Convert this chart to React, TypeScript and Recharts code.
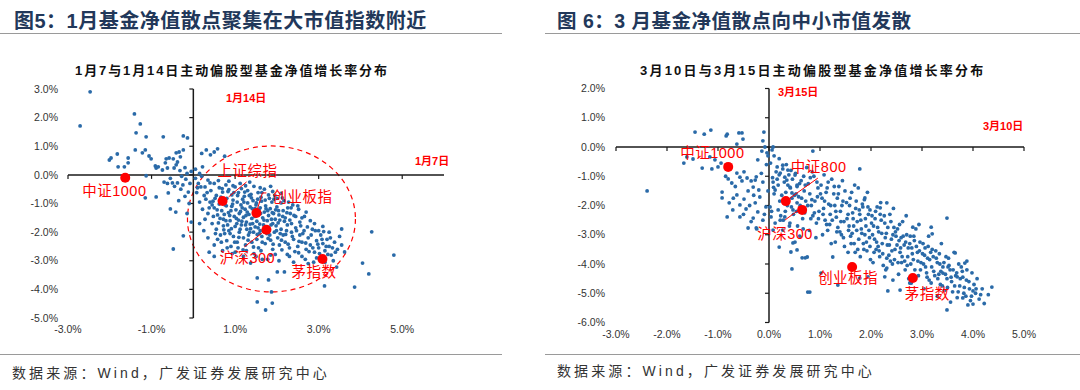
import React from 'react';
import { ScatterChart, Scatter, XAxis, YAxis, ReferenceLine, ReferenceDot, ReferenceArea } from 'recharts';

// ---------- tick values ----------
const janXTicks = [-3, -1, 1, 3, 5];
const janYTicks = [-5, -4, -3, -2, -1, 0, 1, 2, 3];
const marXTicks = [-3, -2, -1, 0, 1, 2, 3, 4, 5];
const marYTicks = [-6, -5, -4, -3, -2, -1, 0, 1, 2];

// ---------- fund points: [x = later day %, y = earlier day %] ----------
const janFunds: number[][] = [
  [-2.47, 2.9], [-2.71, 1.71], [-1.41, 2.13], [-1.27, 1.78], [-1.37, 1.47], [-1.13, 1.33], [-0.72, 1.33], [-0.24, 1.36], [-0.14, 1.29],
  [0.31, 0.87], [0.41, 0.7], [0.58, 0.91], [-1.39, 0.87], [-1.15, 0.87], [-1.22, 0.77], [-1.97, 0.59], [-2.01, 0.52], [-1.82, 0.73],
  [-1.56, 0.59], [-1.56, 0.42], [-1.8, 0.28], [-1.65, 0.28], [-1.06, 0.66], [-1.01, 0.56], [-0.91, 0.31], [-0.84, 0.28], [-0.89, 0.24],
  [-0.67, 0.42], [-0.65, 0.56], [-0.58, 0.59], [-0.48, 0.56], [-0.41, 0.77], [-0.34, 0.8], [-0.31, 0.63], [-0.24, 0.87], [-0.41, 0.35],
  [-0.46, 0.24], [-0.62, 0.24], [-0.74, 0.17], [-0.38, 0.45], [-1.13, -0.03], [-1.15, -0.8], [-0.89, -0.77], [-0.6, -0.63], [-0.55, -1.19],
  [-0.24, -2.13], [-0.48, -2.59],
  [-0.7, -0.25], [-0.62, -0.3], [-0.5, -0.28], [-0.45, -0.4], [-0.38, -0.28], [-0.3, -0.5], [-0.25, -0.35], [-0.18, -0.15], [-0.12, -0.6],
  [-0.08, -0.3], [-0.2, -0.75], [-0.35, -0.9], [-0.1, -1.0], [-0.55, -0.12], [-0.28, -0.05], [-0.15, 0.05], [-0.05, 0.12], [-0.32, 0.15],
  [-0.2, 0.25], [0.05, 0.2], [0.15, 0.05], [0.22, 0.28], [0.1, -0.45], [-0.42, -1.3], [-0.15, -1.35], [-0.05, -1.65], [0.2, 0.75], [0.5, 0.8], [0.75, 0.65],
  [0.05, -0.12], [0.12, -0.3], [0.2, -0.05], [0.28, -0.42], [0.35, -0.18], [0.42, -0.55], [0.5, -0.3], [0.55, -0.72], [0.62, -0.45], [0.7, -0.6],
  [0.78, -0.35], [0.85, -0.52], [0.92, -0.7], [1.0, -0.42], [1.08, -0.62], [1.15, -0.48], [1.22, -0.75], [1.3, -0.55], [1.38, -0.68], [1.45, -0.4],
  [1.55, -0.62], [1.62, -0.78], [1.7, -0.5], [1.8, -0.7], [1.9, -0.58], [2.0, -0.82], [2.1, -0.65], [0.3, -0.85], [0.15, -0.95], [0.45, -1.05], [0.08, -0.62],
  [0.22, -1.2], [0.35, -1.35], [0.4, -0.95], [0.5, -1.15], [0.58, -1.4], [0.63, -0.9], [0.68, -1.25], [0.72, -1.55], [0.76, -1.05], [0.8, -0.82],
  [0.84, -1.32], [0.88, -1.6], [0.92, -1.1], [0.95, -0.88], [0.98, -1.45], [1.02, -1.22], [1.05, -0.95], [1.08, -1.58], [1.1, -1.35], [1.14, -1.05],
  [1.18, -0.85], [1.2, -1.48], [1.24, -1.2], [1.27, -1.65], [1.3, -0.98], [1.33, -1.38], [1.36, -1.12], [1.4, -1.52], [1.43, -0.9], [1.46, -1.28],
  [1.5, -1.05], [1.52, -1.62], [1.56, -1.4], [1.6, -1.15], [1.63, -0.92], [1.66, -1.5], [1.7, -1.3], [1.73, -1.08], [1.77, -1.6], [1.8, -1.42],
  [1.84, -1.18], [1.88, -0.95], [1.92, -1.35], [1.96, -1.55], [2.0, -1.12], [2.05, -1.4], [2.1, -0.98], [2.15, -1.25], [2.2, -1.5], [2.26, -1.15],
  [2.32, -1.35], [2.38, -1.05], [2.45, -1.45], [2.52, -1.2], [2.6, -1.5], [2.7, -1.3], [2.8, -1.6], [0.28, -1.55], [0.45, -1.7], [0.6, -1.68],
  [0.55, -1.9], [0.65, -2.1], [0.72, -1.78], [0.8, -2.3], [0.85, -1.95], [0.9, -2.5], [0.96, -2.15], [1.0, -1.8], [1.05, -2.35], [1.1, -2.0],
  [1.15, -1.75], [1.2, -2.2], [1.25, -2.45], [1.28, -1.9], [1.32, -2.1], [1.36, -1.72], [1.4, -2.35], [1.44, -2.0], [1.48, -1.82], [1.52, -2.25],
  [1.56, -2.55], [1.6, -1.95], [1.64, -2.15], [1.68, -1.75], [1.72, -2.4], [1.76, -2.05], [1.8, -1.85], [1.85, -2.28], [1.9, -2.6], [1.94, -2.0],
  [1.98, -1.78], [2.02, -2.2], [2.06, -2.45], [2.1, -1.9], [2.15, -2.1], [2.2, -2.35], [2.25, -1.75], [2.3, -2.55], [2.35, -2.0], [2.4, -2.25],
  [2.45, -1.85], [2.5, -2.5], [2.55, -2.1], [2.6, -2.35], [2.65, -1.95], [2.7, -2.6], [2.75, -2.2], [2.8, -2.45], [2.85, -1.9], [2.9, -2.7],
  [2.95, -2.3], [3.0, -2.55], [3.05, -2.1], [3.1, -2.4], [3.15, -2.65], [3.2, -2.25], [3.25, -2.5], [3.3, -2.8], [3.38, -2.35], [3.45, -2.6],
  [3.5, -2.15], [3.55, -2.45],
  [1.0, -2.7], [1.2, -2.85], [1.45, -2.75], [1.65, -2.95], [1.85, -2.8], [2.05, -3.0], [2.25, -2.78], [2.4, -3.05], [2.6, -2.85], [2.75, -3.1],
  [2.95, -2.9], [3.15, -3.05], [3.35, -3.0], [0.7, -2.65], [0.5, -2.45], [0.35, -2.2], [0.25, -1.95], [0.15, -1.7],
  [2.9, -1.7], [3.0, -1.95], [3.1, -1.8], [3.25, -2.0], [2.55, -1.65], [2.35, -1.7], [1.9, -1.7], [1.55, -1.85], [1.25, -1.75],
  [0.66, -0.78], [0.74, -1.38], [0.82, -1.75], [0.9, -1.25], [0.97, -0.62], [1.04, -1.7], [1.12, -1.9], [1.17, -1.15], [1.23, -0.6], [1.29, -1.3],
  [1.35, -2.0], [1.39, -0.8], [1.42, -1.7], [1.48, -1.18], [1.54, -0.85], [1.58, -2.05], [1.61, -1.35], [1.67, -1.95], [1.72, -0.88], [1.78, -1.25],
  [1.83, -2.1], [1.87, -1.55], [1.93, -0.85], [1.97, -1.22], [2.03, -1.68], [2.08, -2.05], [2.13, -0.8], [2.18, -1.62], [2.23, -1.95], [2.28, -0.95],
  [0.88, -2.05], [0.78, -1.6], [0.62, -1.02], [0.52, -0.82], [0.58, -2.25],
  [0.33, -0.62], [0.47, -0.92], [0.57, -1.22], [0.64, -1.52], [0.69, -0.48], [0.73, -1.92], [0.79, -1.08], [0.83, -0.58], [0.87, -1.42], [0.91, -1.88],
  [0.94, -1.02], [0.99, -2.35], [1.03, -1.52], [1.06, -0.72], [1.09, -2.18], [1.13, -1.28], [1.16, -1.62], [1.19, -2.62], [1.21, -0.95], [1.26, -1.42],
  [1.31, -2.28], [1.34, -0.72], [1.37, -1.88], [1.41, -1.18], [1.44, -2.52], [1.47, -1.45], [1.51, -0.98], [1.53, -2.08], [1.57, -1.22], [1.59, -1.72],
  [1.64, -0.62], [1.65, -2.35], [1.69, -1.58], [1.71, -1.98], [1.74, -1.18], [1.79, -2.22], [1.82, -0.82], [1.86, -1.75], [1.89, -1.32], [1.91, -2.42],
  [1.95, -0.72], [1.99, -1.95], [2.04, -1.25], [2.07, -1.58], [2.11, -2.28], [2.14, -1.45], [2.17, -0.9], [2.21, -2.08], [2.24, -1.32], [2.27, -2.42],
  [2.31, -1.58], [2.34, -1.15], [2.37, -2.15], [2.41, -1.42], [2.43, -2.68], [2.47, -1.95], [2.5, -1.08], [2.53, -2.32], [2.57, -1.78], [2.62, -2.05],
  [2.66, -1.45], [2.69, -2.38], [2.73, -1.82], [2.77, -2.68], [2.82, -2.1], [2.86, -2.55], [2.92, -1.95], [2.98, -2.42], [3.02, -2.75], [3.08, -2.25],
  [3.12, -1.98], [3.18, -2.5], [3.22, -2.78], [3.28, -2.2], [3.33, -2.55], [3.4, -2.7], [0.26, -0.72], [0.38, -1.15], [0.48, -1.45], [0.53, -2.05],
  [0.67, -2.35], [0.75, -2.05], [0.81, -2.55], [0.93, -2.75], [1.07, -2.55], [1.27, -2.65], [1.5, -2.85], [1.62, -2.65], [1.78, -2.95], [1.96, -2.78],
  [2.12, -2.62], [2.3, -2.85], [2.52, -2.72], [2.68, -2.95], [2.88, -3.05], [0.18, -0.42], [0.4, -0.28], [0.6, -0.2], [0.85, -0.22], [1.12, -0.3],
  [1.35, -0.25], [1.6, -0.45], [1.85, -0.4], [0.95, -0.38], [1.25, -0.38],
  [4.27, -1.99], [4.8, -2.8], [4.05, -3.08], [4.2, -3.46], [3.86, -3.92], [3.14, -3.88], [3.55, -1.89], [3.62, -2.69], [3.43, -3.22], [1.87, -4.09],
  [1.53, -4.44], [1.89, -4.48], [1.73, -4.72], [1.53, -3.6], [1.8, -3.67], [2.01, -3.39], [2.18, -3.39], [1.37, -3.08], [0.38, -2.7], [0.5, -2.85],
];

const marFunds: number[][] = [
  [-2.39, -1.5], [-1.45, 0.51], [-1.27, 0.44], [-1.14, 0.58], [-0.84, 0.38], [-0.82, 0.44], [-0.59, 0.48], [-0.53, 0.48], [-0.51, 0.27], [-0.1, 0.51],
  [-0.12, 0.21], [-0.63, 0.1], [-1.67, -0.55], [-1.61, -0.34], [-1.49, -0.41], [-1.31, -0.72], [-1.16, -0.34], [-1.06, -0.44], [-1.12, -0.75], [-1.0, -0.68],
  [-0.94, -0.55], [-0.8, -1.09], [-0.73, -1.23], [-0.63, -0.89], [-0.57, -1.03], [-0.53, -1.16], [-0.49, -0.85], [-0.43, -1.06], [-0.35, -1.16], [-0.27, -1.13],
  [-0.92, -1.54], [-0.92, -1.74], [-0.78, -1.91], [-0.71, -2.15], [-0.63, -1.64], [-0.57, -1.98], [-0.49, -1.78], [-0.45, -2.12], [-0.57, -2.39], [-0.82, -2.39],
  [-0.41, -2.77], [-0.31, -2.43], [-0.25, -2.77], [-0.22, -2.22], [-0.27, -1.91], [-0.31, -1.37], [-0.41, -1.5], [-0.2, -1.47], [-0.12, -1.2], [-0.18, -1.71],
  [-0.12, -2.5], [-0.24, -2.8], [-0.06, -2.05], [-0.22, -0.44], [-0.14, -0.14], [-0.08, 0.0], [-0.04, -0.2], [-0.02, -0.3],
  [-0.05, -0.6], [-0.15, -0.9], [-0.3, -1.65], [-0.38, -2.0], [-0.5, -2.3], [-0.66, -1.35], [-0.85, -1.0], [-0.02, -1.5], [-0.09, -2.3], [-0.35, -2.55],
  [-0.7, -1.75], [-0.25, -1.02],
  [0.08, 0.0], [0.06, -0.1], [0.16, -0.68], [0.22, -0.89], [0.27, -0.62], [0.31, -1.03], [0.35, -1.13], [0.37, -0.79], [0.41, -1.37], [0.45, -1.57],
  [0.51, -0.96], [0.55, -1.3], [0.08, -1.2], [0.12, -1.47], [0.18, -2.15], [0.22, -2.5], [0.08, -2.84], [0.27, -2.84], [0.31, -2.39], [0.41, -2.6],
  [0.47, -2.15], [0.55, -1.91], [0.2, -3.42], [0.43, -3.59], [0.51, -3.25], [0.45, -4.17], [0.02, -2.05], [0.04, -2.39],
  [0.65, -3.79], [0.75, -3.76], [0.76, -4.96], [0.8, -4.96], [1.02, -4.31], [0.47, -3.28], [0.55, -3.52],
  [0.86, -0.14], [1.78, -0.75], [1.75, -1.4], [1.88, -1.74], [1.98, -2.15], [2.31, -1.91], [2.18, -2.08], [2.82, -2.74], [3.2, -2.97], [3.65, -3.62],
  [4.37, -4.79], [4.0, -4.92], [4.0, -5.37], [3.8, -5.16], [3.49, -5.57], [3.88, -4.2], [3.69, -4.44], [3.51, -4.1], [3.41, -4.31], [2.33, -4.92],
  [2.43, -4.55], [0.71, -3.79], [1.25, -3.76], [1.35, -4.72], [1.78, -4.48], [1.94, -4.44], [2.27, -4.44], [2.31, -4.14], [2.57, -4.89], [2.76, -4.65],
  [0.03, -0.55], [0.07, -1.05], [0.1, -1.6], [0.14, -0.85], [0.18, -1.3], [0.21, -1.85], [0.05, -2.2], [0.12, -2.6], [0.2, -0.4], [0.16, -1.1], [0.23, -2.35], [0.09, -1.38],
  [0.27, -0.75], [0.3, -1.2], [0.33, -1.55], [0.36, -2.0], [0.39, -0.95], [0.42, -1.4], [0.45, -1.75], [0.48, -2.3], [0.28, -2.5], [0.4, -2.7], [0.46, -1.1], [0.34, -0.6], [0.44, -2.05],
  [0.52, -0.9], [0.55, -1.35], [0.58, -1.7], [0.61, -2.0], [0.63, -1.15], [0.66, -2.45], [0.69, -1.5], [0.72, -1.85], [0.74, -0.7], [0.56, -2.7], [0.7, -2.25], [0.6, -3.05], [0.53, -1.6], [0.68, -1.0],
  [0.77, -1.25], [0.8, -1.6], [0.83, -2.0], [0.86, -2.35], [0.88, -1.0], [0.9, -1.85], [0.93, -2.6], [0.96, -1.4], [0.98, -2.2], [0.79, -2.85], [0.92, -3.1], [0.85, -0.85], [0.95, -1.7], [0.82, -2.45],
  [1.02, -1.3], [1.04, -1.75], [1.07, -2.1], [1.1, -2.5], [1.12, -1.55], [1.15, -2.85], [1.17, -1.95], [1.2, -2.3], [1.23, -1.1], [1.05, -3.0], [1.19, -2.65], [1.08, -0.95], [1.14, -1.4], [1.22, -3.3],
  [1.27, -1.6], [1.29, -2.0], [1.32, -2.4], [1.35, -2.75], [1.37, -1.35], [1.4, -2.2], [1.42, -3.0], [1.45, -1.85], [1.47, -2.55], [1.3, -3.25], [1.44, -1.15], [1.34, -1.75], [1.48, -3.4], [1.39, -2.9],
  [1.52, -1.9], [1.55, -2.3], [1.57, -2.7], [1.6, -3.05], [1.62, -1.55], [1.65, -2.45], [1.67, -3.3], [1.7, -2.1], [1.72, -2.85], [1.55, -3.6], [1.68, -1.3], [1.74, -3.5], [1.58, -2.0], [1.63, -2.95],
  [1.77, -2.15], [1.8, -2.5], [1.82, -2.95], [1.85, -3.3], [1.87, -1.8], [1.9, -2.7], [1.92, -3.55], [1.95, -2.3], [1.97, -3.1], [1.79, -3.75], [1.93, -1.55], [1.84, -2.05], [1.99, -3.85], [1.88, -3.0],
  [2.02, -2.35], [2.05, -2.7], [2.07, -3.15], [2.1, -3.5], [2.12, -2.05], [2.15, -2.9], [2.17, -3.75], [2.2, -2.5], [2.22, -3.3], [2.04, -3.95], [2.19, -1.9], [2.24, -4.05], [2.09, -2.2], [2.14, -3.4],
  [2.27, -2.6], [2.3, -2.95], [2.32, -3.35], [2.35, -3.7], [2.37, -2.3], [2.4, -3.15], [2.42, -4.0], [2.45, -2.75], [2.47, -3.5], [2.29, -4.2], [2.44, -2.1], [2.38, -3.9], [2.49, -3.05],
  [2.52, -2.8], [2.55, -3.2], [2.57, -3.6], [2.6, -3.95], [2.62, -2.55], [2.65, -3.35], [2.67, -4.2], [2.7, -3.0], [2.72, -3.75], [2.54, -4.35], [2.69, -2.35], [2.74, -4.5], [2.59, -3.1],
  [2.77, -3.05], [2.8, -3.45], [2.83, -3.85], [2.86, -4.2], [2.88, -2.8], [2.91, -3.6], [2.93, -4.4], [2.96, -3.25], [2.98, -3.95], [2.79, -4.65], [2.94, -2.65], [2.85, -3.2],
  [3.02, -3.3], [3.05, -3.7], [3.07, -4.1], [3.1, -4.45], [3.13, -3.05], [3.15, -3.85], [3.18, -4.65], [3.2, -3.5], [3.23, -4.25], [3.04, -4.85], [3.18, -2.74], [3.12, -3.4],
  [3.27, -3.55], [3.3, -3.95], [3.33, -4.35], [3.36, -4.7], [3.38, -3.3], [3.41, -4.1], [3.44, -4.9], [3.47, -3.75], [3.49, -4.5], [3.3, -5.1], [3.35, -4.0],
  [3.52, -3.8], [3.55, -4.2], [3.58, -4.6], [3.6, -4.95], [3.63, -3.6], [3.66, -4.4], [3.69, -5.15], [3.72, -4.0], [3.74, -4.75], [3.49, -2.43], [3.56, -5.3],
  [3.77, -4.1], [3.8, -4.45], [3.83, -4.8], [3.86, -5.1], [3.88, -3.9], [3.92, -4.6], [3.95, -5.25], [3.98, -4.3], [3.84, -3.97], [3.9, -5.4],
  [4.02, -4.7], [4.05, -5.0], [4.08, -4.5], [4.12, -5.2], [4.18, -4.85], [4.22, -5.35], [4.3, -5.05],
  [0.1, -0.3], [0.2, -0.95], [0.25, -1.65], [0.32, -2.2], [0.37, -1.3], [0.43, -0.8], [0.5, -1.65], [0.54, -2.2], [0.6, -1.25], [0.64, -1.75],
  [0.67, -2.8], [0.71, -1.3], [0.76, -2.0], [0.81, -1.05], [0.84, -1.8], [0.89, -2.25], [0.94, -1.2], [0.97, -2.45], [1.01, -1.6], [1.06, -2.3],
  [1.09, -1.85], [1.13, -2.65], [1.16, -1.2], [1.21, -2.0], [1.24, -2.5], [1.28, -1.35], [1.31, -2.2], [1.33, -2.9], [1.36, -1.6], [1.41, -2.55],
  [1.43, -2.0], [1.46, -3.1], [1.49, -1.5], [1.53, -2.45], [1.56, -2.85], [1.59, -1.75], [1.61, -3.3], [1.64, -2.25], [1.66, -2.7], [1.69, -3.6],
  [1.71, -1.85], [1.73, -2.55], [1.76, -3.15], [1.78, -2.3], [1.81, -2.8], [1.83, -1.95], [1.86, -3.5], [1.89, -2.45], [1.91, -3.25], [1.94, -2.05],
  [1.96, -2.85], [1.98, -3.4], [2.01, -2.6], [2.03, -3.0], [2.06, -3.6], [2.08, -2.45], [2.11, -3.25], [2.13, -2.75], [2.16, -3.55], [2.18, -2.3],
  [2.21, -2.95], [2.23, -3.65], [2.26, -2.35], [2.28, -3.1], [2.31, -3.8], [2.33, -2.75], [2.36, -3.35], [2.39, -2.55], [2.41, -3.55], [2.43, -3.0],
  [2.46, -3.85], [2.48, -2.9], [2.51, -3.35], [2.53, -3.95], [2.56, -2.65], [2.58, -3.45], [2.61, -3.75], [2.63, -3.05], [2.66, -3.9], [2.68, -3.25],
  [2.71, -4.05], [2.73, -3.45], [2.76, -3.3], [2.78, -4.0], [2.81, -3.65], [2.84, -3.05], [2.87, -4.45], [2.89, -3.4], [2.92, -3.9], [2.95, -3.55],
  [2.97, -4.2], [3.01, -3.65], [3.03, -4.0], [3.06, -3.45], [3.09, -4.3], [3.11, -3.8], [3.14, -4.55], [3.17, -3.6], [3.19, -4.1], [3.22, -3.75],
  [3.25, -4.4], [3.28, -3.8], [3.31, -4.5], [3.34, -3.65], [3.37, -4.25], [3.4, -4.75], [3.43, -3.95], [3.46, -4.35], [3.5, -4.8], [3.53, -4.05],
  [3.57, -4.45], [3.61, -4.2], [3.64, -4.75], [3.68, -4.3], [3.71, -4.95], [3.75, -4.5], [3.79, -4.25], [3.82, -5.0], [3.87, -4.55], [3.93, -4.85],
  [3.97, -5.1], [4.06, -4.85], [4.15, -5.05],
];

// ---------- index points ----------
const janIndexNames = ['中证1000', '上证综指', '创业板指', '沪深300', '茅指数'];
const janIndexX = [-1.63, 0.7, 1.51, 1.75, 3.09];
const janIndexY = [-0.1, -0.91, -1.33, -1.92, -2.94];

const marIndexNames = ['中证1000', '中证800', '沪深300', '创业板指', '茅指数'];
const marIndexX = [-0.8, 0.33, 0.65, 1.63, 2.82];
const marIndexY = [-0.68, -1.85, -2.15, -4.1, -4.48];

// ---------- label styling (pixel offsets from the dot) ----------
type LabelStyle = { dx: number; dy: number; lead?: number[][] };
const janLabelStyle: Record<string, LabelStyle> = {
  '中证1000': { dx: -43, dy: 18 },
  '上证综指': { dx: -5, dy: -25, lead: [[6, -4], [24, -19]] },
  '创业板指': { dx: 16, dy: -11, lead: [[1, -4], [6, -20], [10, -20]] },
  '沪深300': { dx: -47, dy: 33, lead: [[-22, 17], [-3, 2]] },
  '茅指数': { dx: -31, dy: 18 },
};
const marLabelStyle: Record<string, LabelStyle> = {
  '中证1000': { dx: -48, dy: -9 },
  '中证800': { dx: 5, dy: -29, lead: [[4, -3], [32, -23]] },
  '沪深300': { dx: -45, dy: 29, lead: [[-17, 10], [-2, -1]] },
  '创业板指': { dx: -34, dy: 16 },
  '茅指数': { dx: -8, dy: 21 },
};

const BLUE = '#2a6aa8';
const RED = '#ff0000';
const AXIS = '#1a1a1a';
const FONT = '"Liberation Sans", Arial, "Noto Sans CJK SC", sans-serif';

const toPts = (arr: number[][]) => arr.map(([x, y]) => ({ x, y }));
const toIdx = (names: string[], xs: number[], ys: number[]) => names.map((name, i) => ({ name, x: xs[i], y: ys[i] }));

const blueDot = (p: any) => <circle cx={p.cx} cy={p.cy} r={1.9} fill={BLUE} />;
const makeKeyShape = (styles: Record<string, LabelStyle>) => (p: any) => {
  const s = styles[p.payload.name];
  return (
    <g>
      {s.lead && (
        <polyline
          points={s.lead.map(([a, b]) => `${p.cx + a},${p.cy + b}`).join(' ')}
          fill="none"
          stroke={RED}
          strokeWidth={1}
        />
      )}
      <circle cx={p.cx} cy={p.cy} r={5} fill={RED} />
      <text x={p.cx + s.dx} y={p.cy + s.dy} fill={RED} fontSize={14.5} fontFamily={FONT} letterSpacing={0.5}>
        {p.payload.name}
      </text>
    </g>
  );
};
const xTickMark = (p: any) => <line x1={p.cx} y1={p.cy} x2={p.cx} y2={p.cy + 4} stroke={AXIS} strokeWidth={1.2} />;
const yTickMark = (p: any) => <line x1={p.cx - 4} y1={p.cy} x2={p.cx} y2={p.cy} stroke={AXIS} strokeWidth={1.2} />;
const ellipseShape = (p: any) => (
  <ellipse
    cx={p.x + p.width / 2}
    cy={p.y + p.height / 2}
    rx={Math.abs(p.width) / 2}
    ry={Math.abs(p.height) / 2}
    fill="none"
    stroke={RED}
    strokeWidth={1.2}
    strokeDasharray="5 4"
  />
);

const fmt = (v: number) => `${v.toFixed(1)}%`;
const tickStyle = { fontSize: 10.5, fill: '#333', fontFamily: FONT };

const abs = (style: React.CSSProperties): React.CSSProperties => ({ position: 'absolute', whiteSpace: 'nowrap', ...style });

export default function App() {
  const janPts = toPts(janFunds);
  const marPts = toPts(marFunds);
  const janIdx = toIdx(janIndexNames, janIndexX, janIndexY);
  const marIdx = toIdx(marIndexNames, marIndexX, marIndexY);

  return (
    <div style={{ position: 'absolute', left: 0, top: 0, width: 1080, height: 390, background: '#fff', fontFamily: FONT, overflow: 'hidden' }}>
      {/* left chart */}
      <div style={abs({ left: 0, top: 0 })}>
        <ScatterChart width={500} height={345} margin={{ top: 89, right: 56, bottom: 7, left: 10 }}>
          <XAxis type="number" dataKey="x" domain={[-3, 6]} ticks={janXTicks} tickFormatter={fmt} axisLine={false} tickLine={false} tick={tickStyle} tickMargin={2} height={20} allowDataOverflow />
          <YAxis type="number" dataKey="y" domain={[-5, 3]} ticks={janYTicks} tickFormatter={fmt} axisLine={false} tickLine={false} tick={tickStyle} tickMargin={4} width={58} allowDataOverflow />
          <ReferenceLine y={0} stroke={AXIS} strokeWidth={1.5} />
          <ReferenceLine x={0} stroke={AXIS} strokeWidth={1.5} />
          {janXTicks.map((t) => <ReferenceDot key={'jx' + t} x={t} y={0} r={0} shape={xTickMark} />)}
          {janYTicks.map((t) => <ReferenceDot key={'jy' + t} x={0} y={t} r={0} shape={yTickMark} />)}
          <Scatter data={janPts} shape={blueDot} isAnimationActive={false} />
          <ReferenceArea x1={-0.14} x2={3.88} y1={1.01} y2={-4.09} shape={ellipseShape} />
          <Scatter data={janIdx} shape={makeKeyShape(janLabelStyle)} isAnimationActive={false} />
        </ScatterChart>
      </div>

      {/* right chart */}
      <div style={abs({ left: 540, top: 0 })}>
        <ScatterChart width={540} height={345} margin={{ top: 88.5, right: 56, bottom: 2.5, left: 18 }}>
          <XAxis type="number" dataKey="x" domain={[-3, 5]} ticks={marXTicks} tickFormatter={fmt} axisLine={false} tickLine={false} tick={tickStyle} tickMargin={2} height={20} allowDataOverflow />
          <YAxis type="number" dataKey="y" domain={[-6, 2]} ticks={marYTicks} tickFormatter={fmt} axisLine={false} tickLine={false} tick={tickStyle} tickMargin={5} width={58} allowDataOverflow />
          <ReferenceLine y={0} stroke={AXIS} strokeWidth={1.5} />
          <ReferenceLine x={0} stroke={AXIS} strokeWidth={1.5} />
          {marXTicks.map((t) => <ReferenceDot key={'mx' + t} x={t} y={0} r={0} shape={xTickMark} />)}
          {marYTicks.map((t) => <ReferenceDot key={'my' + t} x={0} y={t} r={0} shape={yTickMark} />)}
          <Scatter data={marPts} shape={blueDot} isAnimationActive={false} />
          <Scatter data={marIdx} shape={makeKeyShape(marLabelStyle)} isAnimationActive={false} />
        </ScatterChart>
      </div>

      {/* headers */}
      <div style={abs({ left: 14, top: 5, fontSize: 20, fontWeight: 700, color: '#22385a', letterSpacing: 0.5 })}>图5：1月基金净值散点聚集在大市值指数附近</div>
      <div style={abs({ left: 557, top: 5, fontSize: 19.5, fontWeight: 700, color: '#22385a', letterSpacing: 0.5 })}>图 6：3 月基金净值散点向中小市值发散</div>
      <div style={abs({ left: 0, top: 33, width: 502, borderTop: '1.5px solid #9a9a9a' })} />
      <div style={abs({ left: 545, top: 33, width: 535, borderTop: '1.5px solid #9a9a9a' })} />

      {/* chart titles */}
      <div style={abs({ left: 75, top: 60, fontSize: 13, fontWeight: 700, color: '#111', letterSpacing: 1.9 })}>1月7与1月14日主动偏股型基金净值增长率分布</div>
      <div style={abs({ left: 640, top: 60, fontSize: 13, fontWeight: 700, color: '#111', letterSpacing: 2.2 })}>3月10日与3月15日主动偏股型基金净值增长率分布</div>

      {/* axis date labels */}
      <div style={abs({ left: 226, top: 89, fontSize: 11, fontWeight: 700, color: RED })}>1月14日</div>
      <div style={abs({ left: 415, top: 152, fontSize: 11, fontWeight: 700, color: RED })}>1月7日</div>
      <div style={abs({ left: 778, top: 83, fontSize: 11, fontWeight: 700, color: RED })}>3月15日</div>
      <div style={abs({ left: 983, top: 117, fontSize: 11, fontWeight: 700, color: RED })}>3月10日</div>

      {/* footers */}
      <div style={abs({ left: 0, top: 354, width: 502, borderTop: '1.5px solid #9a9a9a' })} />
      <div style={abs({ left: 545, top: 354, width: 535, borderTop: '1.5px solid #9a9a9a' })} />
      <div style={abs({ left: 12, top: 362, fontSize: 14, color: '#333', letterSpacing: 3.1 })}>数据来源：Wind，广发证券发展研究中心</div>
      <div style={abs({ left: 557, top: 360, fontSize: 14, color: '#333', letterSpacing: 3.1 })}>数据来源：Wind，广发证券发展研究中心</div>
    </div>
  );
}
